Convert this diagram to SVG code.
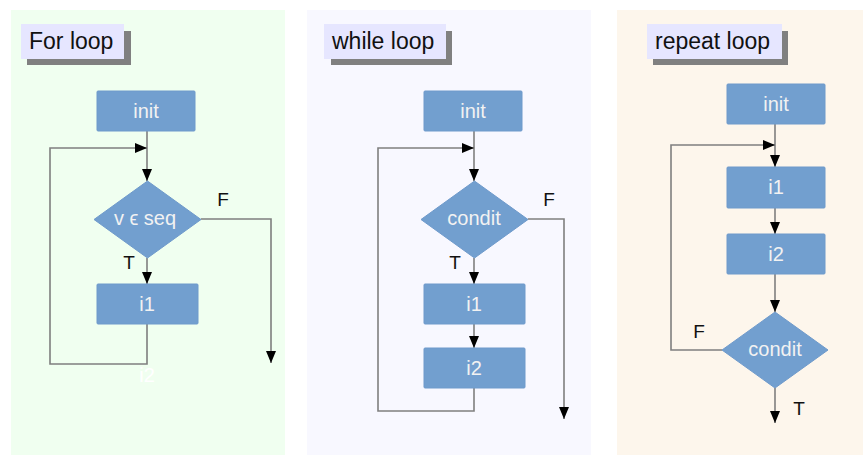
<svg xmlns="http://www.w3.org/2000/svg" width="863" height="455" viewBox="0 0 863 455">
<style>
.node{fill:#729fcf;stroke:#6f9acb;stroke-width:1}
.nt{font-family:"Liberation Sans",Arial,sans-serif;font-size:20px;fill:#f2f2f2;text-anchor:middle}
.lbl{font-family:"Liberation Sans",Arial,sans-serif;font-size:19px;fill:#111111;text-anchor:middle}
.title{font-family:"Liberation Sans",Arial,sans-serif;font-size:23px;fill:#111111}
.tbox{fill:#e6e6ff}
.tsh{fill:#808080}
.edge{fill:none;stroke:#7f7f7f;stroke-width:1.6;marker-end:url(#arr)}
</style>
<defs>
<marker id="arr" markerUnits="userSpaceOnUse" markerWidth="13" markerHeight="11" refX="12" refY="5" orient="auto">
<path d="M0,0 L12,5 L0,10 z" fill="#000000"/>
</marker>
</defs>
<rect width="863" height="455" fill="#ffffff"/>
<g id="panel-for">
<rect x="11" y="10" width="274" height="445" fill="#f0fff0"/>
<rect class="tsh" x="27" y="31" width="104" height="34"/>
<rect class="tbox" x="21" y="24" width="103" height="35"/>
<text class="title" x="29" y="49">For loop</text>
</g>
<g id="panel-while">
<rect x="307" y="10" width="284" height="445" fill="#f8f8ff"/>
<rect class="tsh" x="331" y="31" width="121" height="34"/>
<rect class="tbox" x="324" y="24" width="122" height="35"/>
<text class="title" x="332" y="49">while loop</text>
</g>
<g id="panel-repeat">
<rect x="617" y="10" width="246" height="445" fill="#fdf6ec"/>
<rect class="tsh" x="653" y="31" width="135" height="34"/>
<rect class="tbox" x="647" y="24" width="135" height="35"/>
<text class="title" x="655" y="49">repeat loop</text>
</g>
<g id="connectors">
<path class="edge" d="M147,131 V181"/>
<path class="edge" d="M147,324 V364 H50 V148 H147"/>
<path class="edge" d="M147,258 V284"/>
<path class="edge" d="M201,219 H271 V363"/>
<path class="edge" d="M474,131 V181"/>
<path class="edge" d="M474,388 V411 H378 V148 H474"/>
<path class="edge" d="M474,258 V284"/>
<path class="edge" d="M474,324 V348"/>
<path class="edge" d="M528,219 H564 V419"/>
<path class="edge" d="M775,124 V167"/>
<path class="edge" d="M775,208 V234"/>
<path class="edge" d="M775,274 V312"/>
<path class="edge" d="M775,388 V423"/>
<path class="edge" d="M722,350 H671 V145 H775"/>
</g>
<g id="for-init"><rect class="node" x="97" y="91" width="98" height="40" rx="1"/><text class="nt" x="146" y="118">init</text></g>
<g id="for-cond"><polygon class="node" points="147.5,181 201,219.5 147.5,258 94,219.5"/><text class="nt" x="145" y="225">v ϵ seq</text></g>
<g id="for-i1"><rect class="node" x="97" y="284" width="101" height="40" rx="1"/><text class="nt" x="147" y="311">i1</text></g>
<text x="147" y="382" font-family="Liberation Sans, Arial, sans-serif" font-size="20" fill="#ffffff" text-anchor="middle">i2</text>
<g id="for-labels"><text class="lbl" x="223" y="206">F</text><text class="lbl" x="129" y="269">T</text></g>
<g id="while-init"><rect class="node" x="424" y="91" width="98" height="40" rx="1"/><text class="nt" x="473" y="118">init</text></g>
<g id="while-cond"><polygon class="node" points="474.5,181 528,219.5 474.5,258 421,219.5"/><text class="nt" x="474" y="225">condit</text></g>
<g id="while-i1"><rect class="node" x="424" y="284" width="101" height="40" rx="1"/><text class="nt" x="474" y="311">i1</text></g>
<g id="while-i2"><rect class="node" x="424" y="348" width="101" height="40" rx="1"/><text class="nt" x="474" y="375">i2</text></g>
<g id="while-labels"><text class="lbl" x="549" y="206">F</text><text class="lbl" x="455" y="269">T</text></g>
<g id="repeat-init"><rect class="node" x="727" y="84" width="98" height="40" rx="1"/><text class="nt" x="776" y="111">init</text></g>
<g id="repeat-i1"><rect class="node" x="727" y="167" width="98" height="41" rx="1"/><text class="nt" x="776" y="194">i1</text></g>
<g id="repeat-i2"><rect class="node" x="727" y="234" width="98" height="40" rx="1"/><text class="nt" x="776" y="261">i2</text></g>
<g id="repeat-cond"><polygon class="node" points="775,312 828,350 775,388 722,350"/><text class="nt" x="775" y="356">condit</text></g>
<g id="repeat-labels"><text class="lbl" x="699" y="338">F</text><text class="lbl" x="799" y="415">T</text></g>
</svg>
